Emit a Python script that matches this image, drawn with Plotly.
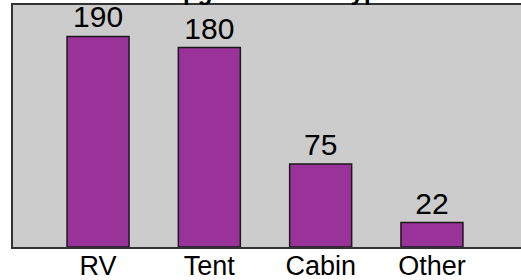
import plotly.graph_objects as go

categories = ["RV", "Tent", "Cabin", "Other"]
values = [190, 180, 75, 22]
title_text = "Campground Site Type"

fig = go.Figure(
    go.Bar(
        x=categories,
        y=values,
        width=0.557,
        marker=dict(color="#993399", line=dict(color="#1a1a1a", width=1.5)),
        text=[str(v) for v in values],
        textposition="outside",
        textfont=dict(family="Liberation Sans, Arial, sans-serif", size=30, color="#000000"),
        cliponaxis=False,
    )
)

fig.update_layout(
    width=521,
    height=280,
    margin=dict(l=13, r=0, t=5, b=33),
    paper_bgcolor="#ffffff",
    plot_bgcolor="#cccccc",
    showlegend=False,
    font=dict(family="Liberation Sans, Arial, sans-serif", color="#000000"),
    annotations=[
        dict(
            text="<b>" + title_text + "</b>",
            xref="paper", yref="paper", x=0.49, y=1,
            xanchor="center", yanchor="bottom",
            yshift=-2, showarrow=False,
            font=dict(size=24, color="#000000"),
        )
    ],
)

fig.update_xaxes(
    range=[-0.764, 3.80],
    automargin=False,
    showgrid=False,
    showline=True, linecolor="#333333", linewidth=2, mirror=True,
    ticks="", ticklabelstandoff=-6,
    tickfont=dict(size=27, color="#000000"),
)
fig.update_yaxes(
    range=[0, 218.4],
    automargin=False,
    showgrid=False, zeroline=False,
    showline=True, linecolor="#333333", linewidth=2,
    showticklabels=False, ticks="",
)

fig.write_html(
    "out.html",
    config={"displayModeBar": False},
    post_script="document.body.style.margin='0';document.body.style.overflow='hidden';",
)
